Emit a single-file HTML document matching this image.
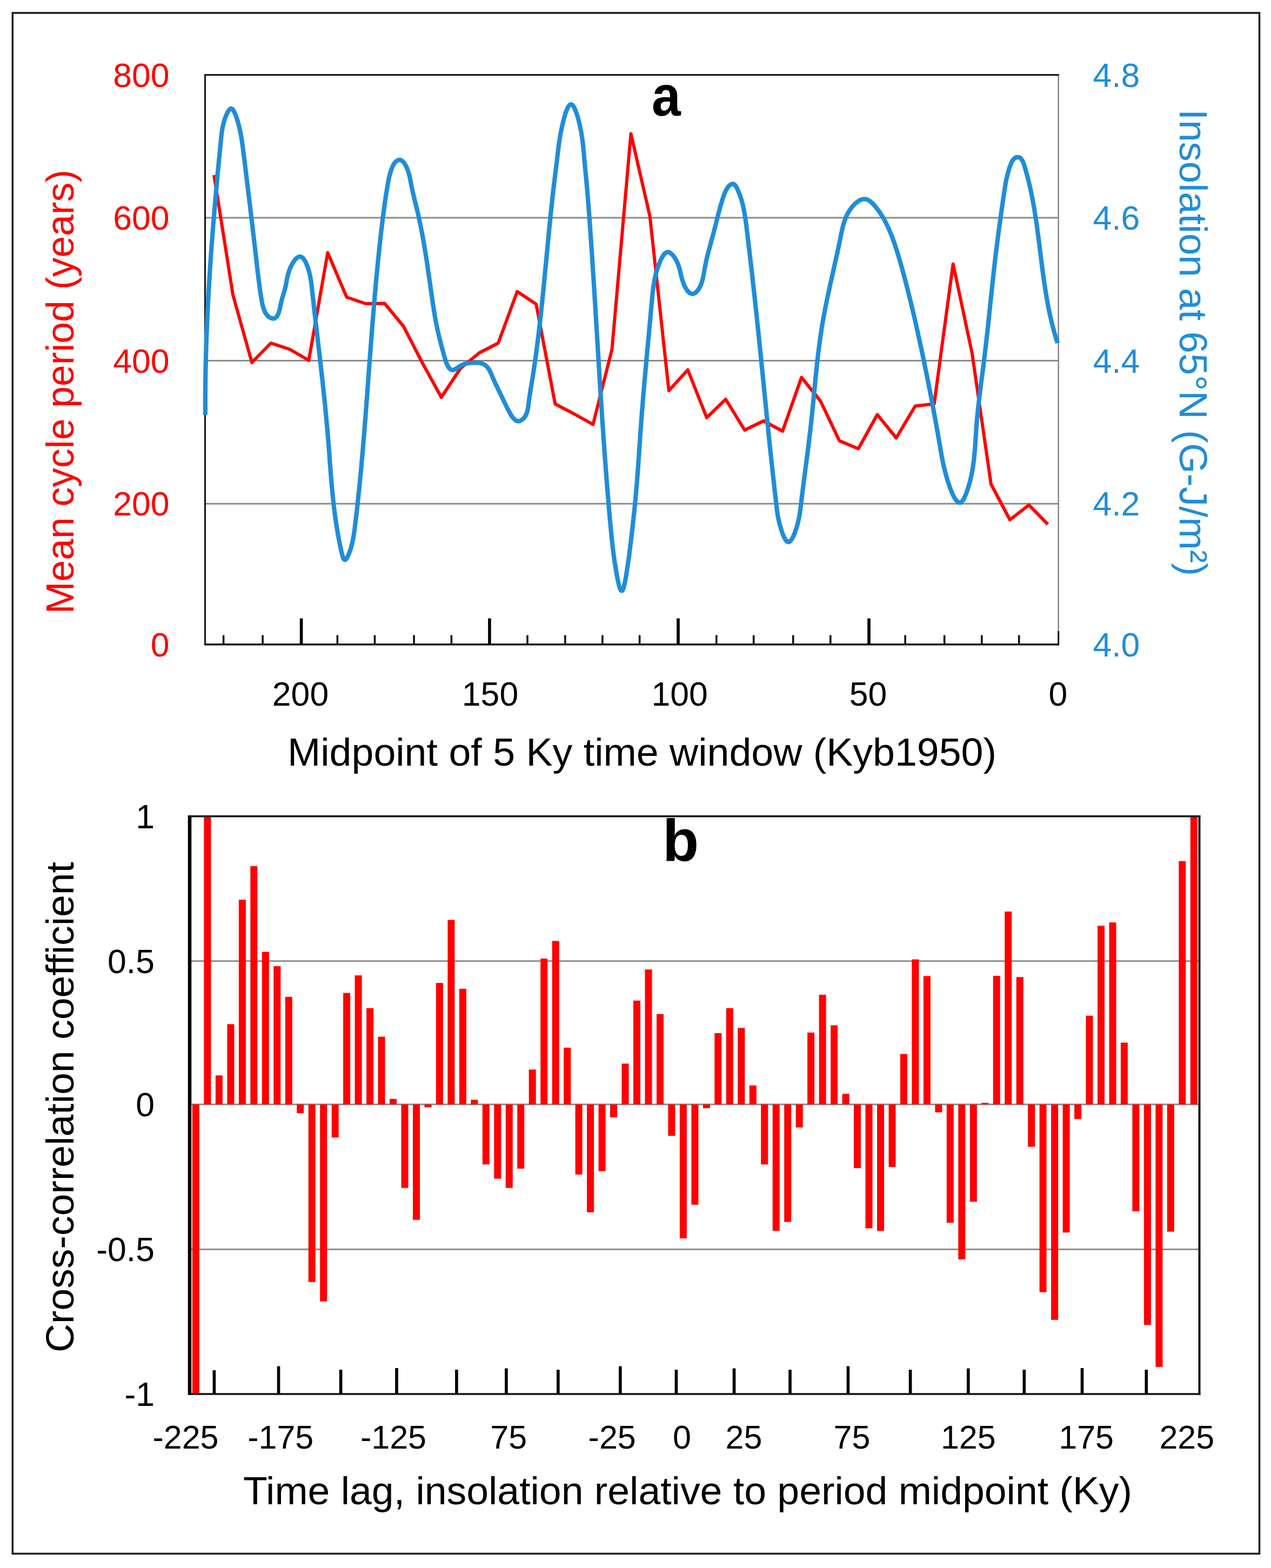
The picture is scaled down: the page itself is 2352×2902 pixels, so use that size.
<!DOCTYPE html>
<html><head><meta charset="utf-8"><title>Cycle period and insolation</title>
<style>html,body{margin:0;padding:0;background:#fff;}svg{display:block;}text{font-family:'Liberation Sans',Arial,sans-serif;}</style></head><body>
<svg xmlns="http://www.w3.org/2000/svg" width="2352" height="2902" viewBox="0 0 2352 2902">
<rect x="0" y="0" width="2352" height="2902" fill="#fff"/>
<rect x="23.3" y="23.9" width="2307.2" height="2851.6" fill="none" stroke="#222" stroke-width="3.6"/>
<line x1="379.5" y1="403.0" x2="1958.7" y2="403.0" stroke="#8c8c8c" stroke-width="3"/>
<line x1="379.5" y1="667.6" x2="1958.7" y2="667.6" stroke="#8c8c8c" stroke-width="3"/>
<line x1="379.5" y1="932.3" x2="1958.7" y2="932.3" stroke="#8c8c8c" stroke-width="3"/>
<line x1="1958.7" y1="138.6" x2="1958.7" y2="1192.7" stroke="#8a8a8a" stroke-width="2.6"/>
<line x1="378.0" y1="138.6" x2="1959.7" y2="138.6" stroke="#1a1a1a" stroke-width="3.2"/>
<line x1="379.5" y1="138.6" x2="379.5" y2="1192.7" stroke="#1a1a1a" stroke-width="3.2"/>
<line x1="378.0" y1="1192.7" x2="1960.0" y2="1192.7" stroke="#111" stroke-width="3.4"/>
<line x1="557.6" y1="1144.5" x2="557.6" y2="1192.7" stroke="#000" stroke-width="5.6"/>
<line x1="905.9" y1="1144.5" x2="905.9" y2="1192.7" stroke="#000" stroke-width="5.6"/>
<line x1="1255.0" y1="1144.5" x2="1255.0" y2="1192.7" stroke="#000" stroke-width="5.6"/>
<line x1="1608.0" y1="1144.5" x2="1608.0" y2="1192.7" stroke="#000" stroke-width="5.6"/>
<line x1="413.6" y1="1175.5" x2="413.6" y2="1192.7" stroke="#111" stroke-width="3.6"/>
<line x1="486.1" y1="1175.5" x2="486.1" y2="1192.7" stroke="#111" stroke-width="3.6"/>
<line x1="624.4" y1="1175.5" x2="624.4" y2="1192.7" stroke="#111" stroke-width="3.6"/>
<line x1="693.5" y1="1175.5" x2="693.5" y2="1192.7" stroke="#111" stroke-width="3.6"/>
<line x1="766.1" y1="1175.5" x2="766.1" y2="1192.7" stroke="#111" stroke-width="3.6"/>
<line x1="835.4" y1="1175.5" x2="835.4" y2="1192.7" stroke="#111" stroke-width="3.6"/>
<line x1="976.0" y1="1175.5" x2="976.0" y2="1192.7" stroke="#111" stroke-width="3.6"/>
<line x1="1045.8" y1="1175.5" x2="1045.8" y2="1192.7" stroke="#111" stroke-width="3.6"/>
<line x1="1114.9" y1="1175.5" x2="1114.9" y2="1192.7" stroke="#111" stroke-width="3.6"/>
<line x1="1183.6" y1="1175.5" x2="1183.6" y2="1192.7" stroke="#111" stroke-width="3.6"/>
<line x1="1325.8" y1="1175.5" x2="1325.8" y2="1192.7" stroke="#111" stroke-width="3.6"/>
<line x1="1394.7" y1="1175.5" x2="1394.7" y2="1192.7" stroke="#111" stroke-width="3.6"/>
<line x1="1467.7" y1="1175.5" x2="1467.7" y2="1192.7" stroke="#111" stroke-width="3.6"/>
<line x1="1536.8" y1="1175.5" x2="1536.8" y2="1192.7" stroke="#111" stroke-width="3.6"/>
<line x1="1675.1" y1="1175.5" x2="1675.1" y2="1192.7" stroke="#111" stroke-width="3.6"/>
<line x1="1747.7" y1="1175.5" x2="1747.7" y2="1192.7" stroke="#111" stroke-width="3.6"/>
<line x1="1816.8" y1="1175.5" x2="1816.8" y2="1192.7" stroke="#111" stroke-width="3.6"/>
<line x1="1885.7" y1="1175.5" x2="1885.7" y2="1192.7" stroke="#111" stroke-width="3.6"/>
<line x1="1958.7" y1="1168" x2="1958.7" y2="1192.7" stroke="#111" stroke-width="3"/>
<polyline fill="none" stroke="#ff0000" stroke-width="6" stroke-linejoin="round" stroke-linecap="butt" points="396.0,324.0 431.1,546.0 466.1,671.0 501.2,635.0 536.3,646.5 571.4,667.0 606.4,467.5 641.5,550.0 676.6,562.0 711.6,561.5 746.7,604.0 781.8,672.0 816.8,735.5 851.9,682.0 887.0,653.0 922.0,635.0 957.1,539.5 992.2,563.0 1027.3,747.6 1062.3,766.0 1097.4,785.5 1132.5,646.5 1167.5,247.5 1202.6,400.0 1237.7,723.0 1272.8,684.5 1307.8,773.0 1342.9,739.0 1378.0,796.0 1413.0,779.0 1448.1,798.0 1483.2,698.5 1518.2,742.0 1553.3,815.7 1588.4,830.5 1623.5,767.3 1658.5,810.5 1693.6,751.5 1728.7,747.5 1763.7,488.5 1798.8,653.5 1833.9,896.0 1868.9,962.0 1904.0,934.7 1939.1,970.4"/>
<path fill="none" stroke="#1f8dd9" stroke-width="8.2" stroke-linejoin="round" stroke-linecap="butt" d="M379.9,768.0 L379.9,762.7 L379.9,757.4 L379.9,752.1 L379.9,746.8 L379.9,741.5 L379.9,736.2 L379.9,730.9 L379.9,725.6 L380.0,720.3 L380.0,715.0 L380.1,709.7 L380.2,704.4 L380.2,699.1 L380.3,693.8 L380.4,688.5 L380.5,683.2 L380.6,677.9 L380.7,672.6 L380.9,667.3 L381.0,662.0 L381.1,656.7 L381.3,651.4 L381.4,646.1 L381.6,640.9 L381.8,635.6 L381.9,630.3 L382.1,625.0 L382.3,619.7 L382.5,614.4 L382.7,609.1 L383.0,603.8 L383.2,598.5 L383.4,593.2 L383.6,587.9 L383.9,582.6 L384.1,577.3 L384.4,572.0 L384.7,566.7 L384.9,561.4 L385.2,556.1 L385.5,550.8 L385.8,545.6 L386.1,540.3 L386.4,535.0 L386.7,529.7 L387.0,524.4 L387.3,519.1 L387.6,513.8 L388.0,508.5 L388.3,503.2 L388.6,497.9 L389.0,492.6 L389.3,487.4 L389.7,482.1 L390.1,476.8 L390.4,471.5 L390.8,466.2 L391.2,460.9 L391.6,455.6 L392.0,450.4 L392.4,445.1 L392.8,439.8 L393.2,434.5 L393.6,429.2 L394.0,423.9 L394.4,418.7 L394.8,413.4 L395.3,408.1 L395.7,402.8 L396.1,397.5 L396.6,392.3 L397.0,387.0 L397.5,381.7 L397.9,376.4 L398.4,371.2 L398.8,365.9 L399.3,360.6 L399.8,355.3 L400.2,350.1 L400.7,344.8 L401.2,339.5 L401.7,334.2 L402.1,329.0 L402.6,323.7 L403.1,318.4 L403.6,313.2 L404.1,307.9 L404.6,302.6 L405.1,297.4 L405.6,292.1 L406.1,286.8 L406.6,281.6 L407.2,276.3 L407.7,271.0 L408.2,265.8 L408.7,260.5 L409.2,255.3 L409.8,250.0 L410.5,244.7 L411.3,239.4 L412.3,234.1 L413.5,228.8 L415.0,223.4 L416.8,218.0 L419.0,212.5 L421.5,207.3 L424.3,203.1 L427.0,200.8 L429.7,201.4 L432.2,204.5 L434.5,209.3 L436.6,214.7 L438.5,220.2 L440.2,225.6 L441.7,231.0 L443.0,236.3 L444.2,241.6 L445.3,246.8 L446.2,252.0 L447.1,257.2 L447.9,262.4 L448.6,267.6 L449.3,272.8 L450.0,277.9 L450.6,283.1 L451.3,288.3 L451.9,293.5 L452.6,298.7 L453.2,304.0 L453.9,309.2 L454.5,314.5 L455.2,319.7 L455.8,325.0 L456.5,330.3 L457.1,335.6 L457.8,340.9 L458.4,346.2 L459.1,351.5 L459.7,356.8 L460.3,362.1 L461.0,367.4 L461.6,372.7 L462.3,378.0 L462.9,383.3 L463.5,388.6 L464.2,393.9 L464.8,399.2 L465.4,404.5 L466.1,409.8 L466.7,415.1 L467.3,420.4 L467.9,425.6 L468.5,430.9 L469.2,436.2 L469.8,441.4 L470.4,446.7 L471.0,451.9 L471.6,457.1 L472.2,462.3 L472.8,467.5 L473.4,472.7 L474.0,477.8 L474.6,483.0 L475.1,488.1 L475.7,493.3 L476.3,498.4 L476.9,503.6 L477.6,508.8 L478.2,514.0 L478.9,519.3 L479.6,524.6 L480.3,529.9 L481.0,535.4 L481.8,540.8 L482.7,546.4 L483.5,552.0 L484.5,557.6 L485.6,563.2 L487.0,568.6 L488.7,573.7 L490.8,578.3 L493.4,582.4 L496.7,585.8 L500.5,588.4 L504.6,589.7 L508.6,589.1 L511.9,586.4 L514.5,581.8 L516.5,576.3 L518.0,570.5 L519.2,564.7 L520.4,559.1 L521.7,553.7 L523.2,548.6 L524.8,543.6 L526.3,538.8 L527.6,533.9 L528.7,529.0 L529.6,524.0 L530.6,518.9 L531.6,513.8 L532.8,508.7 L534.3,503.5 L536.1,498.2 L538.5,492.8 L541.3,487.5 L544.6,482.5 L548.1,478.4 L551.7,475.7 L555.3,474.8 L558.7,476.0 L561.7,479.0 L564.6,483.3 L567.1,488.5 L569.2,493.9 L571.0,499.4 L572.5,504.7 L573.7,510.0 L574.7,515.3 L575.6,520.5 L576.3,525.7 L576.9,530.9 L577.5,536.1 L578.0,541.3 L578.6,546.5 L579.2,551.7 L579.8,557.0 L580.3,562.2 L580.9,567.4 L581.5,572.6 L582.1,577.9 L582.7,583.1 L583.3,588.4 L583.9,593.6 L584.5,598.9 L585.1,604.1 L585.8,609.4 L586.4,614.7 L587.0,619.9 L587.6,625.2 L588.2,630.5 L588.8,635.8 L589.4,641.1 L590.0,646.3 L590.7,651.6 L591.3,656.9 L591.9,662.2 L592.5,667.5 L593.1,672.8 L593.7,678.1 L594.3,683.4 L594.9,688.7 L595.5,694.0 L596.1,699.3 L596.7,704.5 L597.2,709.8 L597.8,715.1 L598.4,720.4 L599.0,725.7 L599.5,731.0 L600.1,736.3 L600.6,741.6 L601.2,746.9 L601.7,752.1 L602.2,757.4 L602.7,762.7 L603.2,768.0 L603.8,773.2 L604.2,778.5 L604.7,783.8 L605.2,789.0 L605.7,794.3 L606.1,799.5 L606.6,804.8 L607.0,810.0 L607.4,815.3 L607.9,820.5 L608.3,825.7 L608.7,830.9 L609.1,836.2 L609.5,841.4 L609.8,846.6 L610.2,851.8 L610.6,857.0 L611.0,862.2 L611.4,867.5 L611.8,872.7 L612.2,877.9 L612.6,883.1 L613.1,888.4 L613.5,893.6 L614.0,898.8 L614.4,904.1 L614.9,909.4 L615.4,914.6 L616.0,919.9 L616.5,925.2 L617.1,930.5 L617.7,935.8 L618.3,941.1 L619.0,946.4 L619.7,951.8 L620.4,957.2 L621.2,962.5 L622.0,967.9 L622.8,973.3 L623.7,978.8 L624.6,984.2 L625.5,989.7 L626.5,995.2 L627.6,1000.7 L628.7,1006.2 L629.8,1011.7 L631.0,1017.3 L632.3,1022.9 L633.6,1028.2 L635.1,1032.6 L636.7,1035.5 L638.6,1036.2 L640.8,1034.5 L643.0,1030.9 L645.3,1025.9 L647.4,1020.2 L649.3,1014.5 L650.8,1008.9 L652.2,1003.5 L653.3,998.1 L654.2,992.7 L655.1,987.5 L655.8,982.2 L656.5,977.0 L657.1,971.8 L657.7,966.6 L658.4,961.4 L659.0,956.2 L659.6,950.9 L660.2,945.7 L660.8,940.5 L661.4,935.2 L662.0,930.0 L662.5,924.8 L663.1,919.5 L663.6,914.3 L664.2,909.0 L664.7,903.8 L665.2,898.5 L665.8,893.2 L666.3,888.0 L666.8,882.7 L667.3,877.5 L667.8,872.2 L668.3,866.9 L668.8,861.6 L669.2,856.4 L669.7,851.1 L670.2,845.8 L670.7,840.5 L671.1,835.3 L671.6,830.0 L672.0,824.7 L672.5,819.4 L672.9,814.1 L673.3,808.8 L673.8,803.5 L674.2,798.2 L674.6,793.0 L675.0,787.7 L675.4,782.4 L675.9,777.1 L676.3,771.8 L676.7,766.5 L677.1,761.2 L677.5,755.9 L677.9,750.6 L678.3,745.3 L678.7,740.0 L679.1,734.7 L679.5,729.4 L679.9,724.1 L680.3,718.8 L680.7,713.5 L681.1,708.3 L681.4,703.0 L681.8,697.7 L682.2,692.4 L682.6,687.1 L683.0,681.8 L683.4,676.5 L683.8,671.2 L684.2,665.9 L684.6,660.7 L685.0,655.4 L685.4,650.1 L685.8,644.8 L686.2,639.5 L686.6,634.3 L687.0,629.0 L687.4,623.7 L687.8,618.4 L688.2,613.2 L688.6,607.9 L689.0,602.6 L689.4,597.3 L689.9,592.1 L690.3,586.8 L690.7,581.5 L691.2,576.2 L691.6,571.0 L692.0,565.7 L692.5,560.4 L692.9,555.1 L693.4,549.9 L693.8,544.6 L694.3,539.3 L694.8,534.1 L695.2,528.8 L695.7,523.5 L696.2,518.2 L696.7,513.0 L697.2,507.7 L697.7,502.4 L698.2,497.2 L698.7,491.9 L699.2,486.6 L699.7,481.3 L700.3,476.1 L700.8,470.8 L701.4,465.5 L701.9,460.2 L702.5,454.9 L703.1,449.7 L703.6,444.4 L704.2,439.1 L704.8,433.8 L705.4,428.5 L706.0,423.2 L706.7,418.0 L707.3,412.7 L707.9,407.4 L708.6,402.1 L709.3,396.9 L709.9,391.6 L710.7,386.4 L711.4,381.1 L712.1,375.9 L712.9,370.7 L713.6,365.4 L714.4,360.2 L715.2,355.1 L716.1,349.9 L716.9,344.7 L717.8,339.6 L718.8,334.4 L719.8,329.3 L721.1,324.0 L722.6,318.7 L724.4,313.2 L726.6,307.8 L729.3,302.8 L732.7,298.9 L736.5,296.4 L740.4,295.9 L744.1,297.6 L747.4,300.9 L750.4,305.4 L752.9,310.7 L755.0,316.1 L756.7,321.5 L758.0,326.7 L759.1,331.8 L760.1,336.9 L761.0,342.0 L762.1,347.1 L763.2,352.3 L764.3,357.4 L765.5,362.6 L766.8,367.8 L768.0,373.0 L769.3,378.2 L770.6,383.4 L771.9,388.6 L773.1,393.8 L774.3,399.0 L775.4,404.2 L776.5,409.4 L777.6,414.5 L778.7,419.7 L779.7,424.9 L780.7,430.1 L781.7,435.3 L782.6,440.5 L783.6,445.6 L784.5,450.8 L785.3,456.0 L786.2,461.2 L787.1,466.4 L787.9,471.6 L788.7,476.8 L789.5,482.0 L790.3,487.2 L791.1,492.5 L791.8,497.7 L792.6,503.0 L793.4,508.2 L794.1,513.5 L794.9,518.8 L795.6,524.1 L796.4,529.4 L797.1,534.7 L797.9,540.0 L798.6,545.4 L799.4,550.7 L800.2,556.1 L801.0,561.4 L801.8,566.7 L802.6,572.0 L803.5,577.3 L804.3,582.5 L805.2,587.7 L806.1,592.8 L807.1,597.8 L808.1,602.8 L809.1,607.7 L810.1,612.5 L811.2,617.3 L812.4,622.1 L813.6,627.0 L814.9,632.0 L816.2,637.3 L817.7,642.7 L819.2,648.5 L820.8,654.6 L822.6,660.9 L824.5,667.3 L826.6,673.1 L829.0,678.2 L831.7,682.1 L834.8,684.4 L838.3,684.8 L842.2,683.3 L846.6,680.6 L851.2,677.5 L856.1,674.8 L861.2,673.1 L866.5,672.1 L872.0,671.5 L877.6,671.2 L883.2,671.3 L888.5,672.0 L893.4,673.3 L897.7,675.6 L901.2,678.7 L904.2,682.6 L906.7,687.1 L909.0,691.9 L911.1,696.9 L913.2,701.9 L915.4,706.9 L917.7,711.8 L920.0,716.6 L922.3,721.4 L924.6,726.1 L926.9,730.8 L929.2,735.5 L931.4,740.2 L933.6,744.8 L935.9,749.5 L938.2,754.3 L940.7,759.2 L943.5,764.3 L946.5,769.3 L949.7,773.8 L953.3,777.3 L957.1,779.4 L961.1,779.5 L965.3,777.4 L969.3,773.9 L972.5,769.3 L974.8,764.4 L976.3,759.2 L977.3,753.8 L978.0,748.3 L978.7,742.8 L979.4,737.4 L980.2,732.1 L981.0,726.8 L981.8,721.6 L982.7,716.3 L983.6,711.1 L984.4,705.9 L985.3,700.7 L986.1,695.5 L986.9,690.2 L987.7,685.0 L988.5,679.8 L989.2,674.6 L990.0,669.3 L990.7,664.1 L991.4,658.9 L992.2,653.6 L992.9,648.4 L993.5,643.2 L994.2,637.9 L994.9,632.7 L995.5,627.4 L996.2,622.2 L996.8,616.9 L997.4,611.7 L998.1,606.4 L998.7,601.2 L999.3,595.9 L999.8,590.7 L1000.4,585.4 L1001.0,580.1 L1001.6,574.9 L1002.1,569.6 L1002.7,564.4 L1003.2,559.1 L1003.8,553.8 L1004.3,548.6 L1004.8,543.3 L1005.4,538.0 L1005.9,532.7 L1006.4,527.5 L1006.9,522.2 L1007.4,516.9 L1007.9,511.7 L1008.4,506.4 L1008.9,501.1 L1009.5,495.8 L1010.0,490.5 L1010.5,485.3 L1011.0,480.0 L1011.5,474.7 L1012.0,469.4 L1012.5,464.1 L1013.0,458.8 L1013.5,453.6 L1014.0,448.3 L1014.5,443.0 L1015.0,437.7 L1015.5,432.4 L1016.0,427.1 L1016.5,421.8 L1017.1,416.5 L1017.6,411.3 L1018.1,406.0 L1018.7,400.7 L1019.2,395.4 L1019.8,390.1 L1020.3,384.8 L1020.9,379.5 L1021.5,374.2 L1022.0,368.9 L1022.6,363.6 L1023.2,358.3 L1023.8,353.0 L1024.4,347.8 L1025.0,342.5 L1025.7,337.2 L1026.3,331.9 L1027.0,326.6 L1027.6,321.3 L1028.3,316.1 L1028.9,310.9 L1029.5,305.7 L1030.2,300.7 L1030.8,295.7 L1031.3,290.7 L1031.9,285.9 L1032.5,281.0 L1033.0,276.2 L1033.7,271.3 L1034.3,266.3 L1035.1,261.1 L1035.9,255.7 L1036.9,250.1 L1038.0,244.2 L1039.3,237.9 L1040.7,231.4 L1042.3,224.6 L1044.1,217.8 L1045.9,211.4 L1047.9,205.6 L1050.0,200.6 L1052.1,196.7 L1054.3,194.1 L1056.5,193.1 L1058.7,193.8 L1060.9,196.2 L1063.1,200.0 L1065.2,204.8 L1067.2,210.5 L1069.2,216.9 L1070.9,223.5 L1072.6,230.3 L1074.0,237.0 L1075.3,243.2 L1076.3,249.2 L1077.2,254.8 L1078.0,260.2 L1078.6,265.4 L1079.2,270.4 L1079.6,275.3 L1080.1,280.1 L1080.5,285.0 L1080.9,289.8 L1081.3,294.8 L1081.8,299.8 L1082.2,304.9 L1082.7,310.1 L1083.2,315.4 L1083.8,320.7 L1084.3,326.0 L1084.8,331.3 L1085.3,336.7 L1085.8,342.1 L1086.3,347.4 L1086.7,352.7 L1087.2,358.1 L1087.6,363.4 L1088.1,368.7 L1088.5,374.0 L1088.9,379.3 L1089.3,384.6 L1089.7,389.9 L1090.1,395.2 L1090.5,400.5 L1090.9,405.8 L1091.3,411.1 L1091.7,416.4 L1092.0,421.7 L1092.4,427.0 L1092.8,432.3 L1093.1,437.6 L1093.5,442.9 L1093.9,448.1 L1094.2,453.4 L1094.6,458.7 L1094.9,464.0 L1095.3,469.3 L1095.7,474.6 L1096.0,479.9 L1096.4,485.1 L1096.7,490.4 L1097.0,495.7 L1097.4,501.0 L1097.7,506.3 L1098.1,511.5 L1098.4,516.8 L1098.7,522.1 L1099.1,527.4 L1099.4,532.7 L1099.7,537.9 L1100.1,543.2 L1100.4,548.5 L1100.7,553.8 L1101.0,559.1 L1101.4,564.3 L1101.7,569.6 L1102.0,574.9 L1102.3,580.2 L1102.7,585.4 L1103.0,590.7 L1103.3,596.0 L1103.6,601.3 L1103.9,606.6 L1104.3,611.8 L1104.6,617.1 L1104.9,622.4 L1105.2,627.7 L1105.5,632.9 L1105.9,638.2 L1106.2,643.5 L1106.5,648.8 L1106.8,654.1 L1107.1,659.3 L1107.5,664.6 L1107.8,669.9 L1108.1,675.2 L1108.4,680.5 L1108.8,685.7 L1109.1,691.0 L1109.4,696.3 L1109.7,701.6 L1110.1,706.9 L1110.4,712.2 L1110.7,717.5 L1111.1,722.7 L1111.4,728.0 L1111.7,733.3 L1112.1,738.6 L1112.4,743.9 L1112.8,749.2 L1113.1,754.5 L1113.4,759.8 L1113.8,765.1 L1114.1,770.4 L1114.5,775.7 L1114.8,780.9 L1115.2,786.2 L1115.6,791.5 L1115.9,796.8 L1116.3,802.1 L1116.6,807.4 L1117.0,812.7 L1117.4,818.1 L1117.8,823.4 L1118.1,828.7 L1118.5,834.0 L1118.9,839.3 L1119.3,844.6 L1119.7,849.9 L1120.1,855.2 L1120.5,860.5 L1120.9,865.9 L1121.3,871.2 L1121.7,876.5 L1122.1,881.8 L1122.5,887.1 L1122.9,892.5 L1123.3,897.8 L1123.8,903.1 L1124.2,908.4 L1124.6,913.8 L1125.1,919.1 L1125.5,924.4 L1126.0,929.8 L1126.4,935.1 L1126.9,940.5 L1127.3,945.8 L1127.8,951.1 L1128.3,956.4 L1128.7,961.6 L1129.2,966.9 L1129.7,972.1 L1130.2,977.2 L1130.7,982.3 L1131.2,987.3 L1131.6,992.3 L1132.1,997.2 L1132.7,1002.0 L1133.2,1006.8 L1133.7,1011.5 L1134.3,1016.4 L1134.9,1021.3 L1135.5,1026.3 L1136.3,1031.6 L1137.0,1037.1 L1137.9,1042.8 L1138.9,1048.9 L1140.0,1055.4 L1141.1,1062.2 L1142.4,1069.3 L1143.8,1076.1 L1145.2,1082.3 L1146.7,1087.5 L1148.2,1091.3 L1149.7,1093.5 L1151.2,1093.5 L1152.6,1091.4 L1154.1,1087.6 L1155.4,1082.3 L1156.7,1076.1 L1158.0,1069.3 L1159.2,1062.3 L1160.2,1055.4 L1161.2,1049.0 L1162.1,1042.9 L1162.9,1037.2 L1163.7,1031.8 L1164.4,1026.7 L1165.0,1021.7 L1165.6,1016.9 L1166.2,1012.1 L1166.8,1007.4 L1167.4,1002.7 L1167.9,997.9 L1168.5,993.0 L1169.1,988.0 L1169.7,982.9 L1170.3,977.8 L1170.9,972.6 L1171.4,967.3 L1172.0,962.0 L1172.6,956.6 L1173.2,951.2 L1173.8,945.8 L1174.3,940.4 L1174.9,935.0 L1175.4,929.6 L1175.9,924.2 L1176.4,918.8 L1176.9,913.4 L1177.3,908.0 L1177.8,902.7 L1178.2,897.4 L1178.7,892.0 L1179.1,886.7 L1179.5,881.4 L1179.9,876.1 L1180.3,870.9 L1180.7,865.6 L1181.1,860.3 L1181.4,855.0 L1181.8,849.8 L1182.2,844.5 L1182.5,839.3 L1182.9,834.0 L1183.2,828.8 L1183.6,823.6 L1184.0,818.3 L1184.3,813.1 L1184.7,807.8 L1185.0,802.6 L1185.4,797.3 L1185.8,792.1 L1186.2,786.8 L1186.5,781.6 L1186.9,776.3 L1187.3,771.1 L1187.7,765.8 L1188.1,760.5 L1188.6,755.3 L1189.0,750.0 L1189.4,744.7 L1189.8,739.4 L1190.3,734.1 L1190.7,728.8 L1191.2,723.5 L1191.6,718.2 L1192.1,712.9 L1192.5,707.6 L1193.0,702.3 L1193.5,697.0 L1194.0,691.7 L1194.4,686.4 L1194.9,681.1 L1195.4,675.8 L1195.9,670.5 L1196.4,665.2 L1196.8,659.9 L1197.3,654.6 L1197.8,649.3 L1198.3,644.0 L1198.8,638.7 L1199.3,633.4 L1199.8,628.2 L1200.3,622.9 L1200.8,617.6 L1201.2,612.3 L1201.7,607.0 L1202.2,601.8 L1202.7,596.5 L1203.2,591.2 L1203.7,586.0 L1204.2,580.7 L1204.6,575.5 L1205.1,570.2 L1205.6,565.0 L1206.1,559.8 L1206.5,554.5 L1207.0,549.3 L1207.5,544.1 L1208.1,538.9 L1208.7,533.7 L1209.5,528.5 L1210.3,523.2 L1211.2,518.0 L1212.3,512.8 L1213.6,507.6 L1215.0,502.3 L1216.6,497.1 L1218.4,491.8 L1220.5,486.5 L1222.7,481.2 L1225.3,476.1 L1228.1,471.6 L1231.2,468.3 L1234.5,466.5 L1238.1,466.7 L1241.8,469.1 L1245.5,472.9 L1249.0,477.7 L1252.0,482.9 L1254.4,488.1 L1256.2,493.1 L1257.7,498.0 L1258.9,502.9 L1260.0,507.8 L1261.2,512.8 L1262.6,518.0 L1264.3,523.3 L1266.6,528.9 L1269.5,534.4 L1272.8,539.1 L1276.5,542.5 L1280.5,544.0 L1284.5,543.3 L1288.2,540.8 L1291.5,537.1 L1294.2,533.0 L1296.5,528.5 L1298.3,523.6 L1299.9,518.5 L1301.1,513.2 L1302.2,507.8 L1303.2,502.3 L1304.1,496.8 L1305.2,491.3 L1306.2,485.9 L1307.4,480.6 L1308.6,475.4 L1309.9,470.2 L1311.2,465.1 L1312.6,460.0 L1314.0,454.9 L1315.3,449.9 L1316.7,444.9 L1318.1,439.9 L1319.4,434.9 L1320.8,429.9 L1322.0,424.8 L1323.3,419.8 L1324.6,414.8 L1325.8,409.7 L1327.1,404.6 L1328.4,399.5 L1329.7,394.4 L1331.1,389.2 L1332.5,384.0 L1334.0,378.8 L1335.6,373.6 L1337.2,368.3 L1339.0,363.0 L1340.9,357.7 L1343.3,352.5 L1346.2,347.7 L1349.7,343.4 L1353.4,340.7 L1356.9,340.2 L1360.0,342.4 L1362.7,346.4 L1365.1,351.3 L1367.3,356.3 L1369.2,361.3 L1371.0,366.3 L1372.5,371.4 L1373.9,376.6 L1375.2,381.8 L1376.3,386.9 L1377.3,392.2 L1378.2,397.4 L1379.0,402.7 L1379.8,407.9 L1380.5,413.2 L1381.2,418.5 L1381.8,423.8 L1382.5,429.0 L1383.1,434.3 L1383.7,439.6 L1384.4,444.9 L1385.0,450.2 L1385.6,455.4 L1386.3,460.7 L1386.9,466.0 L1387.5,471.3 L1388.1,476.5 L1388.7,481.8 L1389.3,487.1 L1390.0,492.3 L1390.6,497.6 L1391.2,502.9 L1391.8,508.1 L1392.4,513.4 L1392.9,518.7 L1393.5,524.0 L1394.1,529.2 L1394.7,534.5 L1395.3,539.7 L1395.9,545.0 L1396.5,550.3 L1397.0,555.5 L1397.6,560.8 L1398.2,566.1 L1398.7,571.3 L1399.3,576.6 L1399.9,581.8 L1400.4,587.1 L1401.0,592.4 L1401.5,597.6 L1402.1,602.9 L1402.6,608.1 L1403.2,613.4 L1403.7,618.7 L1404.3,623.9 L1404.8,629.2 L1405.3,634.4 L1405.9,639.7 L1406.4,644.9 L1407.0,650.2 L1407.5,655.5 L1408.0,660.7 L1408.5,666.0 L1409.1,671.2 L1409.6,676.5 L1410.1,681.8 L1410.7,687.0 L1411.2,692.3 L1411.7,697.5 L1412.2,702.8 L1412.8,708.1 L1413.3,713.3 L1413.8,718.6 L1414.3,723.9 L1414.9,729.1 L1415.4,734.4 L1415.9,739.7 L1416.5,744.9 L1417.0,750.2 L1417.5,755.5 L1418.0,760.8 L1418.6,766.0 L1419.1,771.3 L1419.6,776.6 L1420.2,781.9 L1420.7,787.2 L1421.3,792.5 L1421.8,797.7 L1422.3,803.0 L1422.9,808.3 L1423.4,813.6 L1424.0,818.9 L1424.5,824.2 L1425.1,829.5 L1425.6,834.8 L1426.2,840.1 L1426.8,845.4 L1427.3,850.7 L1427.9,856.1 L1428.5,861.4 L1429.1,866.7 L1429.6,872.0 L1430.2,877.3 L1430.8,882.7 L1431.4,888.0 L1432.0,893.3 L1432.6,898.5 L1433.2,903.8 L1433.7,909.0 L1434.3,914.2 L1434.9,919.3 L1435.5,924.3 L1436.0,929.3 L1436.6,934.3 L1437.2,939.2 L1437.8,944.1 L1438.5,949.1 L1439.3,954.2 L1440.3,959.4 L1441.5,964.9 L1443.0,970.7 L1444.7,976.9 L1446.7,983.3 L1448.9,989.6 L1451.4,995.2 L1454.0,999.7 L1456.8,1002.6 L1459.6,1003.3 L1462.4,1001.6 L1465.2,998.0 L1467.9,992.9 L1470.4,987.1 L1472.6,980.9 L1474.5,975.0 L1476.1,969.3 L1477.4,963.7 L1478.6,958.3 L1479.6,953.0 L1480.4,947.9 L1481.1,942.8 L1481.7,937.7 L1482.3,932.7 L1482.9,927.7 L1483.5,922.6 L1484.1,917.6 L1484.7,912.5 L1485.4,907.3 L1486.0,902.2 L1486.7,897.1 L1487.3,891.9 L1488.0,886.7 L1488.7,881.5 L1489.4,876.3 L1490.0,871.1 L1490.7,865.8 L1491.4,860.6 L1492.1,855.3 L1492.8,850.0 L1493.5,844.8 L1494.2,839.5 L1494.8,834.2 L1495.5,828.9 L1496.2,823.6 L1496.8,818.3 L1497.5,812.9 L1498.1,807.6 L1498.8,802.3 L1499.4,797.0 L1500.0,791.7 L1500.6,786.4 L1501.2,781.1 L1501.7,775.8 L1502.3,770.5 L1502.8,765.2 L1503.3,759.9 L1503.9,754.6 L1504.4,749.3 L1504.9,744.0 L1505.4,738.7 L1505.9,733.4 L1506.4,728.2 L1507.0,722.9 L1507.5,717.6 L1508.0,712.3 L1508.5,707.1 L1509.0,701.8 L1509.5,696.5 L1510.1,691.3 L1510.6,686.0 L1511.2,680.8 L1511.7,675.5 L1512.3,670.2 L1512.9,665.0 L1513.5,659.8 L1514.1,654.5 L1514.8,649.3 L1515.4,644.0 L1516.1,638.8 L1516.8,633.6 L1517.5,628.3 L1518.2,623.1 L1519.0,617.9 L1519.8,612.6 L1520.6,607.4 L1521.4,602.2 L1522.3,597.0 L1523.2,591.8 L1524.1,586.6 L1525.1,581.4 L1526.1,576.1 L1527.1,570.9 L1528.1,565.7 L1529.2,560.5 L1530.2,555.3 L1531.3,550.1 L1532.4,545.0 L1533.5,539.8 L1534.7,534.6 L1535.8,529.4 L1536.9,524.2 L1538.1,519.0 L1539.2,513.8 L1540.4,508.6 L1541.6,503.4 L1542.7,498.3 L1543.9,493.1 L1545.0,487.9 L1546.2,482.7 L1547.3,477.5 L1548.5,472.3 L1549.6,467.2 L1550.7,462.0 L1551.8,456.8 L1552.9,451.6 L1554.0,446.4 L1555.0,441.2 L1556.0,436.1 L1557.1,430.9 L1558.2,425.7 L1559.4,420.6 L1560.7,415.5 L1562.3,410.5 L1564.0,405.5 L1566.0,400.6 L1568.3,395.8 L1571.0,391.1 L1574.1,386.5 L1577.5,382.1 L1581.4,377.8 L1585.7,374.1 L1590.1,371.1 L1594.6,369.0 L1599.1,368.2 L1603.6,368.9 L1607.9,370.9 L1612.0,374.0 L1615.9,377.8 L1619.6,382.0 L1623.1,386.3 L1626.3,390.7 L1629.4,395.2 L1632.2,399.6 L1634.9,404.2 L1637.5,408.8 L1639.9,413.5 L1642.2,418.2 L1644.4,422.9 L1646.5,427.8 L1648.5,432.6 L1650.5,437.5 L1652.3,442.5 L1654.1,447.5 L1655.9,452.5 L1657.5,457.5 L1659.2,462.6 L1660.7,467.6 L1662.3,472.7 L1663.8,477.8 L1665.3,482.9 L1666.7,488.0 L1668.2,493.1 L1669.6,498.2 L1671.0,503.3 L1672.4,508.4 L1673.7,513.5 L1675.1,518.6 L1676.4,523.7 L1677.8,528.8 L1679.1,533.9 L1680.4,539.0 L1681.6,544.1 L1682.9,549.2 L1684.2,554.3 L1685.4,559.4 L1686.7,564.5 L1687.9,569.7 L1689.1,574.8 L1690.3,579.9 L1691.5,585.0 L1692.7,590.2 L1693.9,595.3 L1695.0,600.5 L1696.2,605.6 L1697.3,610.8 L1698.5,616.0 L1699.6,621.2 L1700.8,626.4 L1701.9,631.6 L1703.0,636.8 L1704.2,642.0 L1705.3,647.2 L1706.4,652.5 L1707.5,657.7 L1708.6,663.0 L1709.7,668.2 L1710.8,673.5 L1711.8,678.7 L1712.9,684.0 L1714.0,689.2 L1715.1,694.5 L1716.1,699.7 L1717.2,705.0 L1718.2,710.2 L1719.2,715.5 L1720.3,720.7 L1721.3,725.9 L1722.3,731.2 L1723.3,736.4 L1724.3,741.6 L1725.3,746.8 L1726.2,752.0 L1727.2,757.2 L1728.2,762.3 L1729.1,767.5 L1730.1,772.7 L1731.0,777.8 L1731.9,782.9 L1732.9,788.0 L1733.8,793.1 L1734.7,798.2 L1735.6,803.2 L1736.4,808.3 L1737.3,813.3 L1738.2,818.3 L1739.0,823.2 L1739.9,828.2 L1740.7,833.1 L1741.6,838.1 L1742.4,843.1 L1743.4,848.1 L1744.4,853.3 L1745.5,858.7 L1746.8,864.3 L1748.2,870.1 L1749.8,876.1 L1751.5,882.5 L1753.5,889.2 L1755.7,895.9 L1758.0,902.6 L1760.4,909.0 L1763.0,914.9 L1765.6,920.1 L1768.3,924.4 L1771.0,927.7 L1773.6,929.8 L1776.3,930.4 L1778.9,929.3 L1781.4,926.7 L1783.8,922.8 L1786.0,918.0 L1788.2,912.7 L1790.1,907.1 L1791.9,901.5 L1793.6,896.0 L1795.1,890.5 L1796.4,885.0 L1797.6,879.6 L1798.7,874.2 L1799.7,868.9 L1800.5,863.5 L1801.3,858.2 L1802.0,853.0 L1802.6,847.7 L1803.1,842.5 L1803.6,837.3 L1804.0,832.1 L1804.4,826.9 L1804.8,821.7 L1805.1,816.5 L1805.4,811.3 L1805.8,806.1 L1806.1,800.9 L1806.4,795.8 L1806.8,790.6 L1807.2,785.3 L1807.6,780.1 L1808.1,774.9 L1808.6,769.7 L1809.1,764.4 L1809.6,759.2 L1810.2,753.9 L1810.8,748.6 L1811.4,743.4 L1812.0,738.1 L1812.6,732.8 L1813.3,727.5 L1813.9,722.2 L1814.6,716.9 L1815.3,711.6 L1815.9,706.3 L1816.6,701.0 L1817.3,695.7 L1818.0,690.4 L1818.7,685.1 L1819.4,679.8 L1820.0,674.6 L1820.7,669.3 L1821.4,664.0 L1822.0,658.7 L1822.6,653.4 L1823.3,648.1 L1823.9,642.9 L1824.5,637.6 L1825.1,632.3 L1825.7,627.0 L1826.3,621.8 L1826.9,616.5 L1827.4,611.3 L1828.0,606.0 L1828.6,600.7 L1829.1,595.5 L1829.7,590.2 L1830.2,585.0 L1830.8,579.7 L1831.3,574.5 L1831.9,569.2 L1832.4,564.0 L1833.0,558.7 L1833.5,553.5 L1834.1,548.2 L1834.7,543.0 L1835.2,537.7 L1835.8,532.5 L1836.3,527.2 L1836.9,522.0 L1837.5,516.7 L1838.0,511.5 L1838.6,506.2 L1839.2,501.0 L1839.8,495.7 L1840.4,490.4 L1841.0,485.2 L1841.6,479.9 L1842.2,474.6 L1842.9,469.4 L1843.5,464.1 L1844.2,458.8 L1844.8,453.5 L1845.5,448.2 L1846.2,443.0 L1846.8,437.7 L1847.5,432.4 L1848.2,427.1 L1848.9,421.9 L1849.6,416.6 L1850.4,411.3 L1851.1,406.1 L1851.8,400.8 L1852.5,395.6 L1853.3,390.3 L1854.0,385.1 L1854.8,379.9 L1855.5,374.6 L1856.3,369.4 L1857.1,364.2 L1857.8,359.1 L1858.6,353.9 L1859.4,348.7 L1860.2,343.6 L1861.1,338.4 L1862.1,333.2 L1863.2,328.0 L1864.5,322.7 L1865.9,317.4 L1867.5,312.1 L1869.4,306.7 L1871.5,301.3 L1874.1,296.6 L1877.4,292.9 L1881.2,290.8 L1885.1,290.8 L1888.7,292.9 L1891.6,296.7 L1893.9,301.5 L1895.7,306.9 L1897.3,312.3 L1898.8,317.7 L1900.3,323.0 L1901.7,328.3 L1903.0,333.5 L1904.3,338.6 L1905.5,343.8 L1906.6,348.9 L1907.7,354.0 L1908.8,359.1 L1909.8,364.3 L1910.8,369.4 L1911.8,374.6 L1912.7,379.8 L1913.6,384.9 L1914.5,390.1 L1915.3,395.3 L1916.1,400.6 L1916.9,405.8 L1917.7,411.0 L1918.5,416.2 L1919.2,421.5 L1919.9,426.7 L1920.6,432.0 L1921.3,437.3 L1922.0,442.5 L1922.7,447.8 L1923.3,453.1 L1924.0,458.3 L1924.6,463.6 L1925.3,468.9 L1926.0,474.2 L1926.6,479.5 L1927.3,484.8 L1928.0,490.0 L1928.6,495.3 L1929.3,500.6 L1930.0,505.9 L1930.7,511.1 L1931.5,516.4 L1932.2,521.7 L1933.0,526.9 L1933.8,532.2 L1934.6,537.4 L1935.5,542.6 L1936.3,547.9 L1937.2,553.1 L1938.2,558.3 L1939.1,563.5 L1940.1,568.7 L1941.1,573.9 L1942.2,579.1 L1943.3,584.2 L1944.5,589.4 L1945.7,594.5 L1946.9,599.6 L1948.2,604.8 L1949.6,609.9 L1951.0,614.9 L1952.4,620.0 L1953.9,625.0 L1955.5,630.1 L1957.1,635.1"/>
<line x1="351.0" y1="1778.7" x2="2219.5" y2="1778.7" stroke="#8c8c8c" stroke-width="3"/>
<line x1="351.0" y1="2044.0" x2="2219.5" y2="2044.0" stroke="#8c8c8c" stroke-width="3"/>
<line x1="351.0" y1="2312.2" x2="2219.5" y2="2312.2" stroke="#8c8c8c" stroke-width="3"/>
<rect x="355.9" y="2044.0" width="13.0" height="536.0" fill="#ff0000"/>
<rect x="377.4" y="1510.8" width="13.0" height="533.2" fill="#ff0000"/>
<rect x="398.9" y="1990.3" width="13.0" height="53.7" fill="#ff0000"/>
<rect x="420.4" y="1895.4" width="13.0" height="148.6" fill="#ff0000"/>
<rect x="441.9" y="1665.2" width="13.0" height="378.8" fill="#ff0000"/>
<rect x="463.3" y="1603.0" width="13.0" height="441.0" fill="#ff0000"/>
<rect x="484.8" y="1761.6" width="13.0" height="282.4" fill="#ff0000"/>
<rect x="506.3" y="1788.1" width="13.0" height="255.9" fill="#ff0000"/>
<rect x="527.8" y="1845.0" width="13.0" height="199.0" fill="#ff0000"/>
<rect x="549.2" y="2044.0" width="13.0" height="16.2" fill="#ff0000"/>
<rect x="570.7" y="2044.0" width="13.0" height="328.8" fill="#ff0000"/>
<rect x="592.2" y="2044.0" width="13.0" height="364.6" fill="#ff0000"/>
<rect x="613.7" y="2044.0" width="13.0" height="61.3" fill="#ff0000"/>
<rect x="635.1" y="1837.8" width="13.0" height="206.2" fill="#ff0000"/>
<rect x="656.6" y="1805.2" width="13.0" height="238.8" fill="#ff0000"/>
<rect x="678.1" y="1865.8" width="13.0" height="178.2" fill="#ff0000"/>
<rect x="699.5" y="1918.7" width="13.0" height="125.3" fill="#ff0000"/>
<rect x="721.0" y="2033.8" width="13.0" height="10.2" fill="#ff0000"/>
<rect x="742.5" y="2044.0" width="13.0" height="154.6" fill="#ff0000"/>
<rect x="764.0" y="2044.0" width="13.0" height="213.7" fill="#ff0000"/>
<rect x="785.5" y="2044.0" width="13.0" height="5.3" fill="#ff0000"/>
<rect x="806.9" y="1819.2" width="13.0" height="224.8" fill="#ff0000"/>
<rect x="828.4" y="1702.5" width="13.0" height="341.5" fill="#ff0000"/>
<rect x="849.9" y="1830.1" width="13.0" height="213.9" fill="#ff0000"/>
<rect x="871.4" y="2035.4" width="13.0" height="8.6" fill="#ff0000"/>
<rect x="892.8" y="2044.0" width="13.0" height="111.1" fill="#ff0000"/>
<rect x="914.3" y="2044.0" width="13.0" height="137.5" fill="#ff0000"/>
<rect x="935.8" y="2044.0" width="13.0" height="154.6" fill="#ff0000"/>
<rect x="957.2" y="2044.0" width="13.0" height="118.9" fill="#ff0000"/>
<rect x="978.7" y="1979.4" width="13.0" height="64.6" fill="#ff0000"/>
<rect x="1000.2" y="1774.1" width="13.0" height="269.9" fill="#ff0000"/>
<rect x="1021.7" y="1741.4" width="13.0" height="302.6" fill="#ff0000"/>
<rect x="1043.2" y="1938.9" width="13.0" height="105.1" fill="#ff0000"/>
<rect x="1064.6" y="2044.0" width="13.0" height="129.8" fill="#ff0000"/>
<rect x="1086.1" y="2044.0" width="13.0" height="199.7" fill="#ff0000"/>
<rect x="1107.6" y="2044.0" width="13.0" height="123.5" fill="#ff0000"/>
<rect x="1129.0" y="2044.0" width="13.0" height="24.0" fill="#ff0000"/>
<rect x="1150.5" y="1968.5" width="13.0" height="75.5" fill="#ff0000"/>
<rect x="1172.0" y="1851.8" width="13.0" height="192.2" fill="#ff0000"/>
<rect x="1193.5" y="1794.3" width="13.0" height="249.7" fill="#ff0000"/>
<rect x="1215.0" y="1876.7" width="13.0" height="167.3" fill="#ff0000"/>
<rect x="1236.4" y="2044.0" width="13.0" height="58.2" fill="#ff0000"/>
<rect x="1257.9" y="2044.0" width="13.0" height="248.0" fill="#ff0000"/>
<rect x="1279.4" y="2044.0" width="13.0" height="185.7" fill="#ff0000"/>
<rect x="1300.9" y="2044.0" width="13.0" height="6.9" fill="#ff0000"/>
<rect x="1322.3" y="1912.0" width="13.0" height="132.0" fill="#ff0000"/>
<rect x="1343.8" y="1865.8" width="13.0" height="178.2" fill="#ff0000"/>
<rect x="1365.3" y="1902.5" width="13.0" height="141.5" fill="#ff0000"/>
<rect x="1386.8" y="2008.9" width="13.0" height="35.1" fill="#ff0000"/>
<rect x="1408.2" y="2044.0" width="13.0" height="111.1" fill="#ff0000"/>
<rect x="1429.7" y="2044.0" width="13.0" height="234.0" fill="#ff0000"/>
<rect x="1451.2" y="2044.0" width="13.0" height="217.5" fill="#ff0000"/>
<rect x="1472.7" y="2044.0" width="13.0" height="42.7" fill="#ff0000"/>
<rect x="1494.1" y="1911.0" width="13.0" height="133.0" fill="#ff0000"/>
<rect x="1515.6" y="1841.0" width="13.0" height="203.0" fill="#ff0000"/>
<rect x="1537.1" y="1897.6" width="13.0" height="146.4" fill="#ff0000"/>
<rect x="1558.6" y="2024.5" width="13.0" height="19.5" fill="#ff0000"/>
<rect x="1580.0" y="2044.0" width="13.0" height="117.9" fill="#ff0000"/>
<rect x="1601.5" y="2044.0" width="13.0" height="229.3" fill="#ff0000"/>
<rect x="1623.0" y="2044.0" width="13.0" height="234.0" fill="#ff0000"/>
<rect x="1644.5" y="2044.0" width="13.0" height="115.8" fill="#ff0000"/>
<rect x="1665.9" y="1950.7" width="13.0" height="93.3" fill="#ff0000"/>
<rect x="1687.4" y="1775.6" width="13.0" height="268.4" fill="#ff0000"/>
<rect x="1708.9" y="1806.4" width="13.0" height="237.6" fill="#ff0000"/>
<rect x="1730.4" y="2044.0" width="13.0" height="14.7" fill="#ff0000"/>
<rect x="1751.8" y="2044.0" width="13.0" height="219.0" fill="#ff0000"/>
<rect x="1773.3" y="2044.0" width="13.0" height="286.8" fill="#ff0000"/>
<rect x="1794.8" y="2044.0" width="13.0" height="180.2" fill="#ff0000"/>
<rect x="1816.3" y="2041.0" width="13.0" height="3.0" fill="#ff0000"/>
<rect x="1837.7" y="1806.1" width="13.0" height="237.9" fill="#ff0000"/>
<rect x="1859.2" y="1687.0" width="13.0" height="357.0" fill="#ff0000"/>
<rect x="1880.7" y="1808.3" width="13.0" height="235.7" fill="#ff0000"/>
<rect x="1902.2" y="2044.0" width="13.0" height="78.4" fill="#ff0000"/>
<rect x="1923.6" y="2044.0" width="13.0" height="347.5" fill="#ff0000"/>
<rect x="1945.1" y="2044.0" width="13.0" height="398.8" fill="#ff0000"/>
<rect x="1966.6" y="2044.0" width="13.0" height="237.1" fill="#ff0000"/>
<rect x="1988.1" y="2044.0" width="13.0" height="27.1" fill="#ff0000"/>
<rect x="2009.5" y="1879.8" width="13.0" height="164.2" fill="#ff0000"/>
<rect x="2031.0" y="1713.4" width="13.0" height="330.6" fill="#ff0000"/>
<rect x="2052.5" y="1707.2" width="13.0" height="336.8" fill="#ff0000"/>
<rect x="2073.9" y="1929.6" width="13.0" height="114.4" fill="#ff0000"/>
<rect x="2095.4" y="2044.0" width="13.0" height="197.6" fill="#ff0000"/>
<rect x="2116.9" y="2044.0" width="13.0" height="408.2" fill="#ff0000"/>
<rect x="2138.4" y="2044.0" width="13.0" height="485.9" fill="#ff0000"/>
<rect x="2159.8" y="2044.0" width="13.0" height="235.5" fill="#ff0000"/>
<rect x="2181.3" y="1593.7" width="13.0" height="450.3" fill="#ff0000"/>
<rect x="2202.8" y="1510.8" width="13.0" height="533.2" fill="#ff0000"/>
<line x1="351.0" y1="1510.8" x2="2221.5" y2="1510.8" stroke="#111" stroke-width="3.6"/>
<line x1="351.0" y1="1509.0" x2="351.0" y2="2581.8" stroke="#000" stroke-width="6.5"/>
<line x1="2219.5" y1="1509.0" x2="2219.5" y2="2581.8" stroke="#111" stroke-width="4"/>
<line x1="351.0" y1="2580.0" x2="2221.5" y2="2580.0" stroke="#111" stroke-width="3.6"/>
<line x1="396.4" y1="2536.0" x2="396.4" y2="2580.0" stroke="#000" stroke-width="5.6"/>
<line x1="515.5" y1="2528.5" x2="515.5" y2="2580.0" stroke="#000" stroke-width="5.6"/>
<line x1="630.6" y1="2535.0" x2="630.6" y2="2580.0" stroke="#000" stroke-width="5.6"/>
<line x1="734.0" y1="2532.0" x2="734.0" y2="2580.0" stroke="#000" stroke-width="5.6"/>
<line x1="844.9" y1="2535.0" x2="844.9" y2="2580.0" stroke="#000" stroke-width="5.6"/>
<line x1="936.9" y1="2532.5" x2="936.9" y2="2580.0" stroke="#000" stroke-width="5.6"/>
<line x1="1032.8" y1="2535.0" x2="1032.8" y2="2580.0" stroke="#000" stroke-width="5.6"/>
<line x1="1147.8" y1="2528.5" x2="1147.8" y2="2580.0" stroke="#000" stroke-width="5.6"/>
<line x1="1251.4" y1="2535.0" x2="1251.4" y2="2580.0" stroke="#000" stroke-width="5.6"/>
<line x1="1358.5" y1="2532.5" x2="1358.5" y2="2580.0" stroke="#000" stroke-width="5.6"/>
<line x1="1462.0" y1="2535.0" x2="1462.0" y2="2580.0" stroke="#000" stroke-width="5.6"/>
<line x1="1569.4" y1="2528.5" x2="1569.4" y2="2580.0" stroke="#000" stroke-width="5.6"/>
<line x1="1684.6" y1="2535.0" x2="1684.6" y2="2580.0" stroke="#000" stroke-width="5.6"/>
<line x1="1791.8" y1="2532.5" x2="1791.8" y2="2580.0" stroke="#000" stroke-width="5.6"/>
<line x1="1895.3" y1="2535.0" x2="1895.3" y2="2580.0" stroke="#000" stroke-width="5.6"/>
<line x1="2002.5" y1="2532.0" x2="2002.5" y2="2580.0" stroke="#000" stroke-width="5.6"/>
<line x1="2121.3" y1="2535.0" x2="2121.3" y2="2580.0" stroke="#000" stroke-width="5.6"/>
<text x="313.5" y="160.6" font-size="62.5" fill="#ff0000" text-anchor="end">800</text>
<text x="313.5" y="425.0" font-size="62.5" fill="#ff0000" text-anchor="end">600</text>
<text x="313.5" y="689.6" font-size="62.5" fill="#ff0000" text-anchor="end">400</text>
<text x="313.5" y="954.3" font-size="62.5" fill="#ff0000" text-anchor="end">200</text>
<text x="313.5" y="1214.7" font-size="62.5" fill="#ff0000" text-anchor="end">0</text>
<text x="2022.5" y="160.6" font-size="62.5" fill="#1f8dd9">4.8</text>
<text x="2022.5" y="425.0" font-size="62.5" fill="#1f8dd9">4.6</text>
<text x="2022.5" y="689.6" font-size="62.5" fill="#1f8dd9">4.4</text>
<text x="2022.5" y="954.3" font-size="62.5" fill="#1f8dd9">4.2</text>
<text x="2022.5" y="1214.7" font-size="62.5" fill="#1f8dd9">4.0</text>
<text x="556.0" y="1306" font-size="62.5" fill="#000" text-anchor="middle">200</text>
<text x="907.0" y="1306" font-size="62.5" fill="#000" text-anchor="middle">150</text>
<text x="1257.7" y="1306" font-size="62.5" fill="#000" text-anchor="middle">100</text>
<text x="1606.4" y="1306" font-size="62.5" fill="#000" text-anchor="middle">50</text>
<text x="1958.0" y="1306" font-size="62.5" fill="#000" text-anchor="middle">0</text>
<text x="532" y="1416.7" font-size="72" fill="#000" textLength="1312" lengthAdjust="spacingAndGlyphs">Midpoint of 5 Ky time window (Kyb1950)</text>
<text transform="translate(135.6,1136) rotate(-90)" x="0" y="0" font-size="72" fill="#ff0000" textLength="822" lengthAdjust="spacingAndGlyphs">Mean cycle period (years)</text>
<text transform="translate(2183.3,202) rotate(90)" x="0" y="0" font-size="72" fill="#1f8dd9" textLength="864" lengthAdjust="spacingAndGlyphs">Insolation at 65°N (G-J/m²)</text>
<text x="1206" y="214" font-size="106" font-weight="bold" fill="#000" transform="translate(1206,0) scale(0.91,1) translate(-1206,0)">a</text>
<text x="286" y="1533.0" font-size="62.5" fill="#000" text-anchor="end">1</text>
<text x="286" y="1800.7" font-size="62.5" fill="#000" text-anchor="end">0.5</text>
<text x="286" y="2066.0" font-size="62.5" fill="#000" text-anchor="end">0</text>
<text x="286" y="2334.2" font-size="62.5" fill="#000" text-anchor="end">-0.5</text>
<text x="286" y="2602.0" font-size="62.5" fill="#000" text-anchor="end">-1</text>
<text x="1226" y="1592.5" font-size="110" font-weight="bold" fill="#000">b</text>
<text x="343.5" y="2680.6" font-size="61" fill="#000" text-anchor="middle">-225</text>
<text x="519.2" y="2680.6" font-size="61" fill="#000" text-anchor="middle">-175</text>
<text x="728.0" y="2680.6" font-size="61" fill="#000" text-anchor="middle">-125</text>
<text x="941.2" y="2680.6" font-size="61" fill="#000" text-anchor="middle">75</text>
<text x="1132.7" y="2680.6" font-size="61" fill="#000" text-anchor="middle">-25</text>
<text x="1262.0" y="2680.6" font-size="61" fill="#000" text-anchor="middle">0</text>
<text x="1376.5" y="2680.6" font-size="61" fill="#000" text-anchor="middle">25</text>
<text x="1576.5" y="2680.6" font-size="61" fill="#000" text-anchor="middle">75</text>
<text x="1791.8" y="2680.6" font-size="61" fill="#000" text-anchor="middle">125</text>
<text x="2010.1" y="2680.6" font-size="61" fill="#000" text-anchor="middle">175</text>
<text x="2196.3" y="2680.6" font-size="61" fill="#000" text-anchor="middle">225</text>
<text x="450" y="2784" font-size="72" fill="#000" textLength="1645" lengthAdjust="spacingAndGlyphs">Time lag, insolation relative to period midpoint (Ky)</text>
<text transform="translate(135.6,2503) rotate(-90)" x="0" y="0" font-size="72" fill="#000" textLength="908" lengthAdjust="spacingAndGlyphs">Cross-correlation coefficient</text>
</svg></body></html>
